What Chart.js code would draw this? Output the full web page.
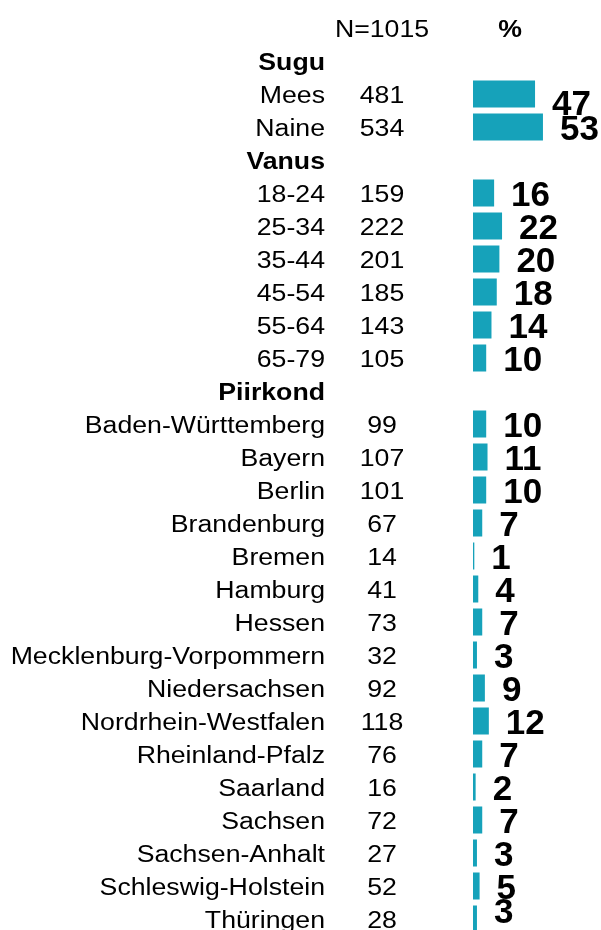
<!DOCTYPE html>
<html>
<head>
<meta charset="utf-8">
<script src="https://cdn.jsdelivr.net/npm/chart.js@4/dist/chart.umd.min.js"></script>
<style>
  html, body { margin: 0; padding: 0; background: #fff; overflow: hidden; }
  #wrap { position: relative; width: 601px; height: 940px; }
</style>
</head>
<body>
<div id="wrap"><canvas id="chart"></canvas></div>
<script>
// rows of the table, top to bottom
const categories = [
  "Sugu", "Mees", "Naine",
  "Vanus", "18-24", "25-34", "35-44", "45-54", "55-64", "65-79",
  "Piirkond", "Baden-Württemberg", "Bayern", "Berlin", "Brandenburg", "Bremen",
  "Hamburg", "Hessen", "Mecklenburg-Vorpommern", "Niedersachsen",
  "Nordrhein-Westfalen", "Rheinland-Pfalz", "Saarland", "Sachsen",
  "Sachsen-Anhalt", "Schleswig-Holstein", "Thüringen"
];
const groupHeaders = ["Sugu", "Vanus", "Piirkond"];
const counts = [
  null, 481, 534,
  null, 159, 222, 201, 185, 143, 105,
  null, 99, 107, 101, 67, 14, 41, 73, 32, 92, 118, 76, 16, 72, 27, 52, 28
];
const percents = [
  null, 47, 53,
  null, 16, 22, 20, 18, 14, 10,
  null, 10, 11, 10, 7, 1, 4, 7, 3, 9, 12, 7, 2, 7, 3, 5, 3
];
const totalN = 1015;
const nHeader = "N=" + totalN;
const pctHeader = "%";

var FONT = '"Liberation Sans", Arial, Helvetica, sans-serif';
var STRETCH = 1.16;
// a couple of value labels sit off-centre in the original
var labelNudge = { 1: 8, 26: -9 };

function drawStretched(ctx, text, x, y, align, sx) {
  ctx.save();
  ctx.translate(x, y);
  ctx.scale(sx, 1);
  ctx.textAlign = align;
  ctx.fillText(text, 0, 0);
  ctx.restore();
}

var tableText = {
  id: "tableText",
  afterDraw: function (chart) {
    var ctx = chart.ctx;
    var yScale = chart.scales.y;
    var step = yScale.getPixelForValue(1) - yScale.getPixelForValue(0);
    ctx.save();
    ctx.fillStyle = "#000";
    ctx.textBaseline = "alphabetic";

    // column headers
    var yh = yScale.getPixelForValue(0) - step;
    ctx.font = "23px " + FONT;
    drawStretched(ctx, nHeader, 382, yh + 9, "center", STRETCH);
    ctx.font = "bold 23px " + FONT;
    drawStretched(ctx, pctHeader, 510, yh + 9, "center", STRETCH);

    var meta = chart.getDatasetMeta(0);
    categories.forEach(function (cat, i) {
      var y = yScale.getPixelForValue(i);
      var isHeader = groupHeaders.indexOf(cat) !== -1;
      ctx.font = (isHeader ? "bold " : "") + "23px " + FONT;
      drawStretched(ctx, cat, 325, y + 9, "right", STRETCH);
      if (counts[i] !== null) {
        ctx.font = "23px " + FONT;
        drawStretched(ctx, String(counts[i]), 382, y + 9, "center", STRETCH);
      }
      if (percents[i] !== null) {
        var bar = meta.data[i];
        ctx.font = "bold 35px " + FONT;
        ctx.textAlign = "left";
        ctx.fillText(String(percents[i]), bar.x + 17, y + 12.5 + (labelNudge[i] || 0));
      }
    });
    ctx.restore();
  }
};

new Chart(document.getElementById("chart"), {
  type: "bar",
  data: {
    labels: categories,
    datasets: [
      {
        data: percents,
        backgroundColor: "#16A2BA",
        borderWidth: 0,
        barPercentage: 0.82,
        categoryPercentage: 1
      }
    ]
  },
  options: {
    indexAxis: "y",
    responsive: true,
    maintainAspectRatio: false,
    animation: false,
    layout: {
      padding: { left: 473, right: 9.2, top: 44.5, bottom: 4.5 }
    },
    plugins: {
      legend: { display: false },
      tooltip: { enabled: false }
    },
    scales: {
      x: { display: false, min: 0, max: 90 },
      y: { display: false }
    }
  },
  plugins: [tableText]
});
</script>
</body>
</html>
